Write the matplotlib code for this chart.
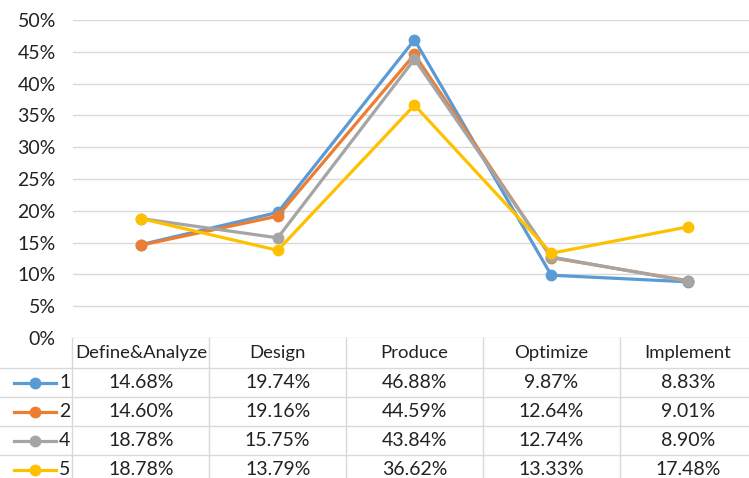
import matplotlib
matplotlib.use('Agg')
import matplotlib.pyplot as plt
from matplotlib.lines import Line2D
from matplotlib.transforms import blended_transform_factory
from matplotlib.ticker import PercentFormatter

plt.rcParams['font.family'] = ['Lato', 'DejaVu Sans']

# Phase shares per group (%)
phases = ['Define&Analyze', 'Design', 'Produce', 'Optimize', 'Implement']
groups = ['1', '2', '4', '5']
g1 = [14.68, 19.74, 46.88, 9.87, 8.83]
g2 = [14.60, 19.16, 44.59, 12.64, 9.01]
g4 = [18.78, 15.75, 43.84, 12.74, 8.90]
g5 = [18.78, 13.79, 36.62, 13.33, 17.48]
series = [g1, g2, g4, g5]
colors = ['#5B9BD5', '#ED7D31', '#A5A5A5', '#FFC000']

W, H = 749, 478
FS = 14
TXT = '#222222'
fig = plt.figure(figsize=(W / 100, H / 100), dpi=100)
# plot area in pixel terms: left 72.5, right 756.5 (clipped), top 20, bottom 338
ax = fig.add_axes([72.5 / W, (H - 338) / H, 684 / W, 318 / H])

x = list(range(len(phases)))
for vals, c in zip(series, colors):
    ax.plot(x, vals, '-o', color=c, lw=2.3, ms=7.5, zorder=3, clip_on=False)

ax.set_xlim(-0.5, len(phases) - 0.5)
ax.set_ylim(0, 50)
ax.set_yticks(range(0, 51, 5))
ax.yaxis.set_major_formatter(PercentFormatter(decimals=0))
ax.set_xticks([])
ax.grid(axis='y', color='#d9d9d9', lw=1)
ax.set_axisbelow(True)
for s in ax.spines.values():
    s.set_visible(False)
ax.tick_params(axis='y', length=0, labelsize=FS, pad=12, colors=TXT)

# data table under the plot
grid_c = '#d9d9d9'
tr = blended_transform_factory(ax.transData, fig.transFigure)
fy = lambda py: (H - py) / H
fx = lambda px: px / W
row_tops = [338, 368, 397, 426, 455, 484]

# horizontal rules
for py in row_tops[1:]:
    fig.add_artist(Line2D([0, 1], [fy(py), fy(py)], transform=fig.transFigure,
                          color=grid_c, lw=1))
# vertical rules between columns
for i in range(len(phases) + 1):
    fig.add_artist(Line2D([i - 0.5, i - 0.5], [fy(338), fy(H)], transform=tr,
                          color=grid_c, lw=1))

# header row
for i, p in enumerate(phases):
    fig.text(i, fy(353), p, transform=tr, ha='center', va='center',
             fontsize=13.3, color=TXT)

# value rows with legend keys
for r, (name, vals, c) in enumerate(zip(groups, series, colors)):
    yc = fy((row_tops[r + 1] + row_tops[r + 2]) / 2)
    fig.add_artist(Line2D([fx(14), fx(56)], [yc, yc], transform=fig.transFigure,
                          color=c, lw=2.3))
    fig.add_artist(Line2D([fx(35)], [yc], transform=fig.transFigure,
                          color=c, marker='o', ms=7.5, lw=0))
    fig.text(fx(59), yc, name, ha='left', va='center', fontsize=FS, color=TXT)
    for i, v in enumerate(vals):
        fig.text(i, yc, f'{v:.2f}%', transform=tr, ha='center', va='center',
                 fontsize=FS, color=TXT)

fig.savefig('out.png', dpi=100)
